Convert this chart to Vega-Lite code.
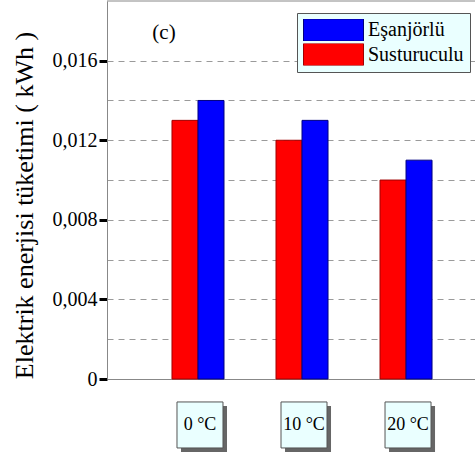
{
  "$schema": "https://vega.github.io/schema/vega-lite/v6.json",
  "width": 368,
  "height": 378,
  "autosize": {"type": "none"},
  "padding": {"left": 107, "top": 1, "right": 0, "bottom": 75},
  "background": "#ffffff",
  "config": {"view": {"stroke": null}, "font": "Liberation Serif"},
  "datasets": {
    "bars": [
      {"sicaklik": "0 °C", "seri": "Susturuculu", "enerji": 0.013},
      {"sicaklik": "0 °C", "seri": "Eşanjörlü", "enerji": 0.014},
      {"sicaklik": "10 °C", "seri": "Susturuculu", "enerji": 0.012},
      {"sicaklik": "10 °C", "seri": "Eşanjörlü", "enerji": 0.013},
      {"sicaklik": "20 °C", "seri": "Susturuculu", "enerji": 0.010},
      {"sicaklik": "20 °C", "seri": "Eşanjörlü", "enerji": 0.011}
    ],
    "cats": [
      {"sicaklik": "0 °C"},
      {"sicaklik": "10 °C"},
      {"sicaklik": "20 °C"}
    ]
  },
  "layer": [
    {
      "data": {"name": "bars"},
      "mark": {"type": "bar", "strokeWidth": 1},
      "encoding": {
        "x": {
          "field": "sicaklik", "type": "nominal", "sort": ["0 °C", "10 °C", "20 °C"],
          "scale": {"paddingInner": 0.5, "paddingOuter": 0.519, "align": 0.602},
          "axis": {"title": null, "labels": false, "ticks": false, "domainColor": "#888888", "domainWidth": 1, "grid": false}
        },
        "xOffset": {
          "field": "seri", "type": "nominal", "sort": ["Susturuculu", "Eşanjörlü"],
          "scale": {"paddingInner": 0, "paddingOuter": 0}
        },
        "y": {
          "field": "enerji", "type": "quantitative",
          "scale": {"domain": [0, 0.019], "nice": false},
          "axis": {
            "title": "Elektrik enerjisi tüketimi ( kWh )",
            "titleFont": "Liberation Serif", "titleFontSize": 26, "titleFontWeight": "normal", "titleColor": "#000000",
            "titleX": -83, "titleY": 204, "titleAngle": -90, "titleAlign": "center", "titleBaseline": "middle",
            "values": [0, 0.002, 0.004, 0.006, 0.008, 0.01, 0.012, 0.014, 0.016],
            "labelExpr": "round(datum.value*1000) % 4 == 0 ? (datum.value == 0 ? '0' : replace(format(datum.value, '.3f'), '.', ',')) : ''",
            "labelFont": "Liberation Serif", "labelFontSize": 20, "labelColor": "#000000", "labelPadding": 2,
            "labelFlush": false, "labelOverlap": false,
            "tickSize": 8, "tickWidth": 3, "tickColor": "#000000",
            "tickOpacity": {"condition": {"test": "round(datum.value*1000) % 4 == 0", "value": 1}, "value": 0},
            "grid": true, "gridColor": "#9a9a9a", "gridDash": [6, 5], "gridWidth": 1,
            "gridOpacity": {"condition": {"test": "datum.value == 0", "value": 0}, "value": 1},
            "domainColor": "#888888", "domainWidth": 1
          }
        },
        "color": {
          "field": "seri", "type": "nominal",
          "scale": {"domain": ["Eşanjörlü", "Susturuculu"], "range": ["#0000ff", "#ff0000"]},
          "legend": {
            "title": null, "orient": "none", "legendX": 190, "legendY": 12, "direction": "vertical",
            "fillColor": "#eaffff", "strokeColor": "#555555", "padding": 6,
            "symbolType": "M-1,-0.3667H1V0.3667H-1Z", "symbolSize": 3600,
            "symbolStrokeColor": "#333333", "symbolStrokeWidth": 1, "symbolOpacity": 1,
            "clipHeight": 22, "rowPadding": 2.5,
            "labelFont": "Liberation Serif", "labelFontSize": 20, "labelColor": "#000000", "labelOffset": 4, "labelLimit": 200
          }
        },
        "stroke": {
          "field": "seri", "type": "nominal",
          "scale": {"domain": ["Eşanjörlü", "Susturuculu"], "range": ["#000080", "#a00000"]},
          "legend": null
        }
      }
    },
    {
      "data": {"name": "cats"},
      "mark": {"type": "point", "shape": "square", "size": 2116, "filled": true, "color": "#666666", "opacity": 1, "xOffset": 6, "yOffset": 4},
      "encoding": {
        "x": {"field": "sicaklik", "type": "nominal", "sort": ["0 °C", "10 °C", "20 °C"]},
        "y": {"datum": -0.00231}
      }
    },
    {
      "data": {"name": "cats"},
      "mark": {"type": "point", "shape": "square", "size": 2116, "filled": true, "fill": "#eaffff", "stroke": "#555555", "strokeWidth": 1, "opacity": 1, "xOffset": 2},
      "encoding": {
        "x": {"field": "sicaklik", "type": "nominal", "sort": ["0 °C", "10 °C", "20 °C"]},
        "y": {"datum": -0.00231}
      }
    },
    {
      "data": {"name": "cats"},
      "mark": {"type": "text", "font": "Liberation Serif", "fontSize": 18, "color": "#000000", "xOffset": 2, "baseline": "middle", "align": "center"},
      "encoding": {
        "x": {"field": "sicaklik", "type": "nominal", "sort": ["0 °C", "10 °C", "20 °C"]},
        "y": {"datum": -0.00231},
        "text": {"field": "sicaklik"}
      }
    },
    {
      "data": {"values": [{"etiket": "(c)"}]},
      "mark": {"type": "text", "font": "Liberation Serif", "fontSize": 21, "color": "#000000", "dx": -34, "baseline": "middle", "align": "center"},
      "encoding": {
        "x": {"datum": "0 °C"},
        "y": {"datum": 0.0174},
        "text": {"field": "etiket"}
      }
    },
    {
      "data": {"values": [{}]},
      "mark": {"type": "rule", "color": "#888888", "strokeWidth": 1},
      "encoding": {"y": {"datum": 0.019}}
    }
  ]
}
